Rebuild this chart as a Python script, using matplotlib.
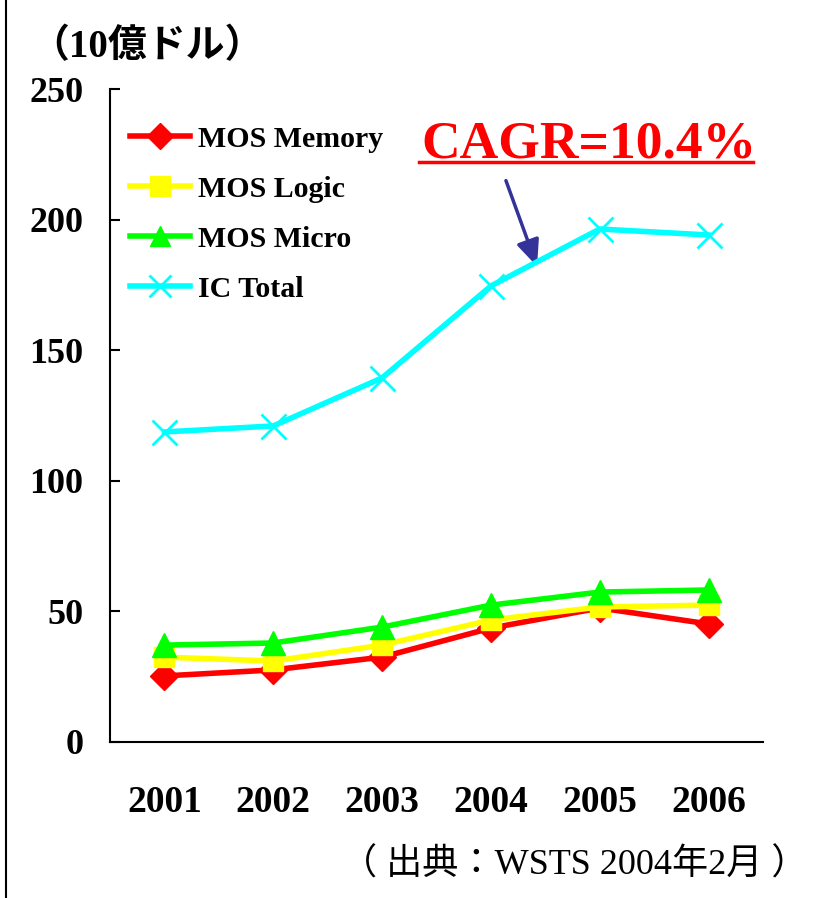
import matplotlib
matplotlib.use("Agg")
import matplotlib.pyplot as plt
from matplotlib.lines import Line2D

years = ["2001", "2002", "2003", "2004", "2005", "2006"]
mos_memory = [25.3, 27.6, 32.5, 43.6, 51.3, 45.2]
mos_logic = [32.5, 31.0, 37.1, 46.7, 51.7, 52.4]
mos_micro = [37.1, 37.9, 44.0, 52.4, 57.4, 58.2]
ic_total = [118.7, 121.0, 139.4, 174.6, 196.4, 194.1]
series_names = ["MOS Memory", "MOS Logic", "MOS Micro", "IC Total"]
y_ticks = [0, 50, 100, 150, 200, 250]

SERIF = ["Liberation Serif", "Noto Sans CJK JP"]

fig = plt.figure(figsize=(8.2, 8.98), dpi=100)
ax = fig.add_axes([110/820, 1-742/898, (763-110)/820, (742-89)/898])

x = list(range(len(years)))
ax.plot(x, mos_memory, color="#ff0000", lw=4, marker="D", ms=14, mec="#ff0000", mfc="#ff0000", zorder=3)
ax.plot(x, mos_logic, color="#ffff00", lw=4, marker="s", ms=15, mec="#ffff00", mfc="#ffff00", zorder=4)
ax.plot(x, mos_micro, color="#00ff00", lw=4, marker="^", ms=17, mec="#00ff00", mfc="#00ff00", zorder=5)
ax.plot(x, ic_total, color="#00ffff", lw=4, marker="x", ms=18, mew=2, mec="#00ffff", zorder=6)

ax.set_xlim(-0.5, 5.5)
ax.set_ylim(0, 250)
ax.set_yticks(y_ticks)
ax.set_yticklabels([str(v) for v in y_ticks], fontfamily=SERIF, fontweight="bold", fontsize=26)
ax.set_xticks(x)
ax.set_xticklabels(years, fontfamily=SERIF, fontweight="bold", fontsize=27)
ax.tick_params(axis="y", direction="in", length=7, width=1.5, pad=19)
ax.tick_params(axis="x", length=0, pad=31)
for s in ["top", "right"]:
    ax.spines[s].set_visible(False)
for s in ["left", "bottom"]:
    ax.spines[s].set_linewidth(1.5)

handles = [
    Line2D([], [], color="#ff0000", lw=4, marker="D", ms=13),
    Line2D([], [], color="#ffff00", lw=4, marker="s", ms=14),
    Line2D([], [], color="#00ff00", lw=4, marker="^", ms=14),
    Line2D([], [], color="#00ffff", lw=4, marker="x", ms=16, mew=2),
]
leg = ax.legend(handles, series_names, loc="upper left", bbox_to_anchor=(-0.01, 0.985),
                frameon=False, handlelength=2.0, handletextpad=0.25, labelspacing=0.77,
                prop={"family": SERIF, "weight": "bold", "size": 21.5})

# CAGR annotation
fig.text(421/820, 1-158/898, "CAGR=10.4%", color="#ff0000", fontfamily=SERIF,
         fontweight="bold", fontsize=38.5, ha="left", va="baseline")
fig.add_artist(Line2D([419/820, 753/820], [1-162/898, 1-162/898], color="#ff0000", lw=2.5))
ax.annotate("", xy=(538/820, 1-269/898), xytext=(505/820, 1-178/898),
            xycoords="figure fraction", textcoords="figure fraction",
            arrowprops=dict(arrowstyle="-|>,head_length=1.6,head_width=0.7", color="#333399", lw=2.5))

fig.text(30/820, 1-47/898, "（10億ドル）", fontfamily=SERIF, fontweight="bold", fontsize=28,
         ha="left", va="center")
fig.text(808/820, 1-865/898, "（ 出典：WSTS 2004年2月 ）", fontfamily=SERIF, fontsize=26,
         ha="right", va="center")

fig.add_artist(Line2D([6/820, 6/820], [0, 1], color="black", lw=1.5))

fig.savefig("out.png", dpi=100)
